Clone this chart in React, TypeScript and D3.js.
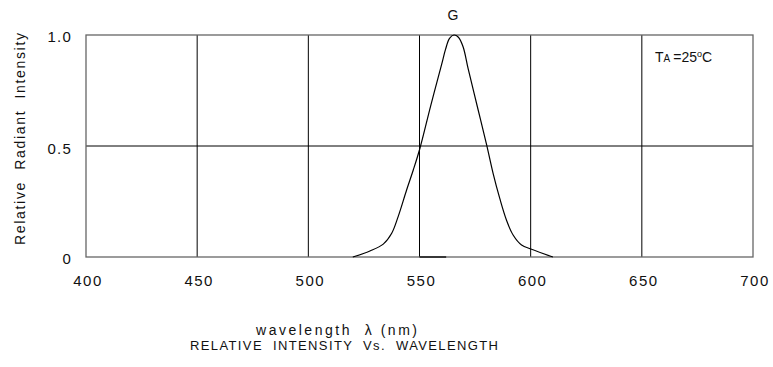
import React from 'react'
import * as d3 from 'd3'

// Spectrum (wavelength nm -> relative intensity)
const wavelengths = [520, 527.7, 533.7, 537.5, 540.4, 544.2, 547.2, 550.2, 555, 559.9, 561.7, 563.5, 565.5, 567.5, 569.6, 571.9, 576, 580.2, 583.1, 586.1, 589.1, 592.1, 595.9, 600.4, 610]
const intensities = [0, 0.027, 0.058, 0.107, 0.182, 0.302, 0.392, 0.49, 0.68, 0.865, 0.935, 0.985, 1.0, 0.99, 0.947, 0.847, 0.678, 0.505, 0.377, 0.264, 0.167, 0.099, 0.054, 0.035, 0]
const xTicks = [400, 450, 500, 550, 600, 650, 700]
const yTicks = [0, 0.5, 1.0]
const yTickLabels = ['0', '0.5', '1.0']
const baseSegment = [550, 562]

const W = 773
const H = 367
const FONT = '"Liberation Sans", Arial, sans-serif'

export default function App() {
  const x = d3.scaleLinear().domain([400, 700]).range([86, 753])
  const y = d3.scaleLinear().domain([0, 1]).range([257, 35])

  const pts: [number, number][] = wavelengths.map((w, i) => [w, intensities[i]])
  const line = d3.line<[number, number]>()
    .x(d => x(d[0]))
    .y(d => y(d[1]))
    .curve(d3.curveCatmullRom.alpha(0.5))

  return (
    <svg width={W} height={H} style={{ position: 'absolute', left: 0, top: 0, background: '#fff', fontFamily: FONT }}>
      {/* vertical grid */}
      {xTicks.slice(1, -1).map(t => (
        <line key={'gx' + t} x1={x(t)} x2={x(t)} y1={y(1)} y2={y(0)} stroke="#000" strokeWidth={1} />
      ))}
      {/* horizontal grid */}
      <line x1={x(400)} x2={x(700)} y1={y(0.5)} y2={y(0.5)} stroke="#000" strokeWidth={1} />

      {/* frame */}
      <rect x={x(400)} y={y(1)} width={x(700) - x(400)} height={y(0) - y(1)} fill="none" stroke="#666" strokeWidth={1.3} />

      {/* darker piece on the baseline */}
      <line x1={x(baseSegment[0])} x2={x(baseSegment[1])} y1={y(0)} y2={y(0)} stroke="#000" strokeWidth={1.3} />

      {/* curve */}
      <path d={line(pts) || ''} fill="none" stroke="#000" strokeWidth={1.2} />

      {/* x tick labels */}
      {xTicks.map(t => (
        <text key={'xl' + t} x={x(t) + 2} y={286} textAnchor="middle" fontSize={15} letterSpacing={1.5} fill="#111">{t}</text>
      ))}

      {/* y tick labels */}
      {yTicks.map((t, i) => (
        <text key={'yl' + t} x={72} y={y(t) + 7 + (i === 1 ? 1 : 0)} textAnchor="end" fontSize={15} letterSpacing={1.2} fill="#111">{yTickLabels[i]}</text>
      ))}

      {/* y axis title */}
      <text transform="translate(25,139) rotate(-90)" textAnchor="middle" fontSize={14} fill="#111"
        textLength={212} lengthAdjust="spacing" style={{ whiteSpace: 'pre' }}>Relative  Radiant  Intensity</text>

      {/* series label */}
      <text x={x(565)} y={20} textAnchor="middle" fontSize={14} fill="#111">G</text>

      {/* temperature note */}
      <text x={655} y={62} fontSize={14} fill="#111" style={{ whiteSpace: 'pre' }}>
        T<tspan fontSize={10}>A</tspan><tspan dx={3}>=25</tspan><tspan fontSize={9} dy={-5}>o</tspan><tspan dy={5}>C</tspan>
      </text>

      {/* x axis title + caption */}
      <text x={256} y={335} fontSize={14} fill="#111" textLength={161} lengthAdjust="spacing" style={{ whiteSpace: 'pre' }}>wavelength  λ (nm)</text>
      <text x={190} y={350} fontSize={13} fill="#111" textLength={308} lengthAdjust="spacing" style={{ whiteSpace: 'pre' }}>RELATIVE  INTENSITY  Vs.  WAVELENGTH</text>
    </svg>
  )
}
